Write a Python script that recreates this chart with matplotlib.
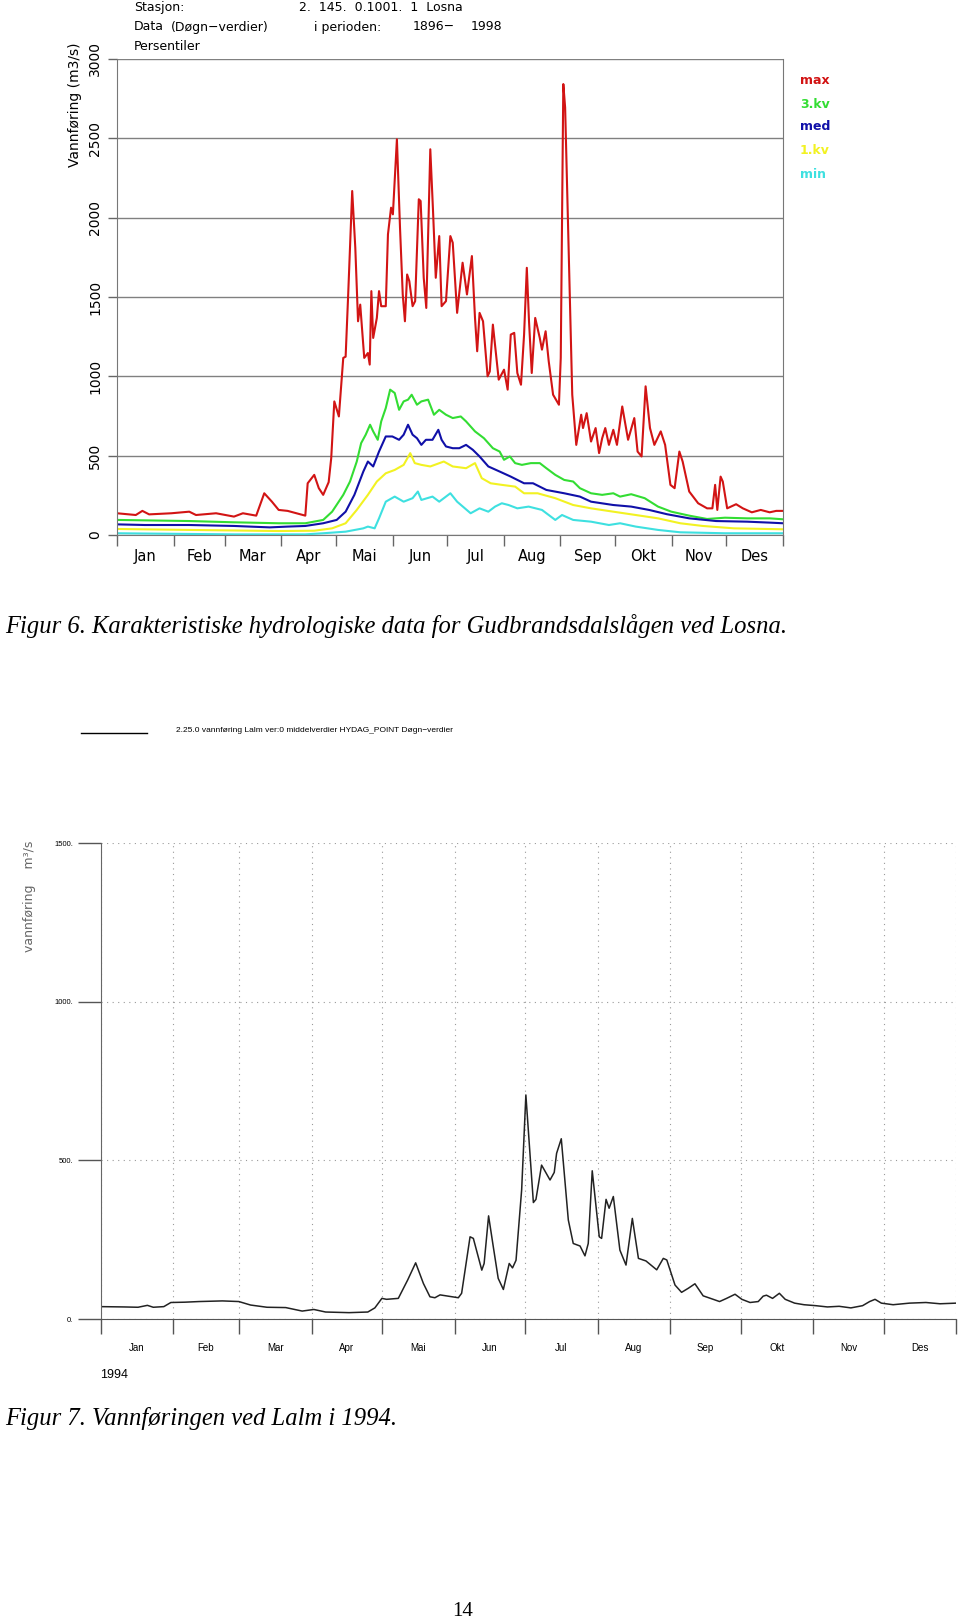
import matplotlib.pyplot as plt
from matplotlib.lines import Line2D

W, H = 960, 1623
DPI = 100


def fx(x):
    return x / W


def fy(y):
    return 1 - y / H


months = ["Jan", "Feb", "Mar", "Apr", "Mai", "Jun", "Jul", "Aug", "Sep", "Okt", "Nov", "Des"]
month_edges = [0, 31, 59, 90, 120, 151, 181, 212, 243, 273, 304, 334, 365]
month_mids = [(a + b) / 2 for a, b in zip(month_edges[:-1], month_edges[1:])]

# Losna 1896-1998, percentiles (m3/s)
max_day = [0, 10.3, 13.9, 17.6, 29.8, 39.6, 43.3, 54.3, 64.1, 69.0, 76.3, 80.7, 84.9, 88.6, 93.5,
           98.3, 103.2, 104.5, 108.1, 110.6, 113.0, 116.0, 117.4, 119.1, 121.6, 124.0, 125.3,
           126.7, 128.9, 130.6, 132.1, 133.3, 135.5, 137.5, 138.5, 139.4, 140.4, 142.4, 143.6,
           144.8, 147.3, 148.5, 150.2, 151.2, 153.4, 155.1, 156.6, 157.8, 159.0, 160.2, 162.0,
           163.4, 165.4, 166.4, 168.1, 169.5, 171.7, 173.2, 174.7, 176.6, 177.9, 180.3, 182.7,
           184.0, 186.4, 189.4, 191.8, 194.5, 196.2, 197.4, 198.7, 200.6, 203.1, 204.3, 206.0,
           209.2, 212.1, 214.1, 215.8, 217.7, 219.4, 221.4, 223.1, 224.6, 225.8, 227.3, 229.2,
           231.7, 232.9, 234.9, 236.6, 239.0, 242.2, 243.2, 244.6, 245.6, 249.5, 251.7, 254.4,
           255.4, 257.4, 259.8, 262.3, 264.2, 265.9, 267.6, 269.6, 272.0, 274.0, 276.9, 280.1,
           283.5, 285.3, 287.5, 289.7, 292.1, 294.5, 298.0, 300.4, 303.3, 305.6, 308.2, 310.0,
           313.6, 318.5, 323.4, 326.3, 327.8, 329.0, 330.8, 332.0, 334.4, 339.3, 343.0, 347.9,
           352.8, 357.7, 361.3, 365]
max_q = [137, 126, 152, 130, 137, 147, 126, 137, 116, 137, 122, 263, 210, 158, 152,
         137, 122, 326, 379, 295, 253, 333, 484, 842, 747, 1116, 1124,
         1516, 2168, 1810, 1347, 1452, 1116, 1147, 1074, 1537, 1242, 1368, 1537,
         1442, 1442, 1895, 2063, 2021, 2494, 1937, 1516, 1347, 1642, 1600, 1442,
         1474, 2116, 2105, 1621, 1431, 2431, 2042, 1621, 1884, 1442, 1474, 1884,
         1842, 1400, 1716, 1516, 1758, 1368, 1158, 1400, 1347, 1000, 1031, 1326,
         979, 1042, 916, 1263, 1274, 1021, 947, 1263, 1684, 1347, 1021, 1368,
         1242, 1168, 1284, 1095, 884, 821, 1116, 2842, 2694, 884, 568, 758,
         674, 768, 589, 674, 516, 610, 674, 568, 663, 568, 810, 600,
         737, 526, 495, 937, 674, 568, 653, 568, 316, 295, 526, 463,
         274, 200, 168, 168, 316, 158, 368, 337, 168, 194, 168, 143,
         158, 143, 152, 152]

q3_day = [0, 39.6, 64.1, 88.6, 103.2, 113.0, 117.9, 124.0, 127.7, 131.4, 133.8, 136.3, 138.7,
          140.4, 142.9, 144.8, 147.3, 149.7, 152.2, 154.6, 157.1, 159.5, 161.5, 164.4, 166.8,
          170.5, 173.7, 176.6, 180.3, 184.0, 188.4, 191.3, 196.2, 201.1, 206.0, 209.7, 212.1,
          215.3, 218.2, 221.9, 226.8, 231.7, 235.3, 240.2, 245.1, 250.0, 253.7, 259.8, 265.9,
          272.0, 275.7, 281.8, 289.2, 296.5, 303.8, 313.6, 323.4, 333.2, 345.4, 357.7, 365]
q3_q = [95, 88, 80, 74, 74, 95, 147, 253, 337, 463, 579, 632, 695,
        653, 600, 716, 800, 916, 895, 789, 842, 853, 884, 821, 842,
        853, 758, 789, 758, 737, 747, 716, 653, 610, 547, 526, 474,
        495, 453, 442, 453, 453, 421, 379, 347, 337, 295, 263, 253,
        263, 242, 257, 232, 179, 147, 122, 101, 109, 105, 105, 99]

med_day = [0, 15.2, 39.6, 64.1, 83.7, 93.5, 103.2, 113.0, 120.4, 125.3, 130.1, 135.0, 137.5,
           140.4, 143.6, 147.3, 150.9, 154.6, 157.1, 159.5, 162.0, 164.4, 166.8, 169.3, 172.9,
           176.1, 177.9, 180.3, 184.0, 187.6, 191.3, 195.0, 198.7, 203.5, 209.7, 215.8, 223.1,
           228.0, 235.3, 245.1, 253.7, 259.8, 272.0, 281.8, 291.6, 301.4, 313.6, 328.3, 345.4,
           357.7, 365]
med_q = [67, 63, 63, 57, 48, 53, 57, 74, 95, 147, 253, 400, 463,
         432, 526, 621, 621, 600, 632, 695, 632, 610, 568, 600, 600,
         663, 600, 558, 547, 547, 568, 537, 495, 432, 400, 368, 326,
         326, 284, 263, 242, 210, 189, 179, 158, 131, 105, 88, 84,
         78, 74]

q1_day = [0, 39.6, 88.6, 108.1, 117.9, 125.3, 131.4, 137.5, 142.4, 147.3, 152.2, 157.1, 160.7,
          163.2, 166.8, 171.7, 179.1, 184.0, 191.3, 196.2, 199.9, 204.8, 210.9, 218.2, 223.1,
          230.5, 240.2, 250.0, 259.8, 272.0, 284.3, 296.5, 308.7, 321.0, 338.1, 365]
q1_q = [38, 32, 25, 27, 42, 74, 158, 253, 337, 389, 410, 442, 516,
        453, 442, 432, 463, 432, 421, 453, 358, 326, 316, 305, 263,
        263, 232, 189, 168, 147, 126, 105, 74, 57, 42, 36]

min_day = [0, 64.1, 103.2, 113.0, 125.3, 135.0, 137.5, 141.2, 143.6, 147.3, 152.2, 157.1, 162.0,
           164.9, 166.8, 172.9, 176.6, 182.7, 186.4, 193.8, 198.7, 203.5, 207.2, 210.9, 214.6,
           219.4, 225.6, 232.9, 240.2, 243.9, 250.0, 259.8, 269.6, 275.7, 284.3, 296.5, 308.7,
           333.2, 365]
min_q = [11, 4, 4, 11, 21, 42, 53, 42, 105, 210, 242, 210, 232,
         274, 221, 242, 210, 263, 210, 137, 168, 147, 179, 200, 189,
         168, 179, 158, 95, 126, 95, 84, 63, 74, 53, 32, 17,
         11, 11]

# Lalm 1994, daily mean discharge (m3/s)
lalm_day = [0, 10, 16, 20, 22.5, 27, 30, 36, 42, 52, 59, 64, 71, 79, 86, 91, 96, 106, 114, 117,
            120, 122, 127, 131, 134.4, 137.7, 140.5, 142.6, 144.8, 152.6, 154, 157.6, 159, 162.6,
            163.6, 165.5, 167.5, 169.6, 171.8, 174.3, 175.7, 177.2, 179.6, 181.4, 184.6, 185.7,
            188.1, 191.7, 193.5, 194.5, 196.5, 199.5, 201.6, 204.5, 206.6, 208, 209.7, 212.7,
            213.7, 215.6, 216.9, 218.7, 221.5, 224.1, 226.8, 229.4, 232.6, 237.2, 240, 241.5,
            245, 247.8, 250.7, 253.5, 257, 261.3, 264, 267, 270.6, 273.5, 277, 280.5, 282.6, 284,
            286.6, 289.5, 292, 296, 300, 305, 310, 315, 320, 325, 328, 330.3, 333, 338, 345, 352,
            358, 365]
lalm_q = [39, 38, 37, 43, 37, 39, 52, 53, 55, 57, 55, 44, 37, 36, 25, 30, 22, 20, 22, 35,
          65, 62, 65, 123, 177, 112, 70, 67, 76, 67, 81, 259, 254, 154,
          175, 325, 228, 128, 93, 175, 161, 185, 407, 706, 367, 377,
          485, 438, 462, 522, 568, 312, 238, 230, 199, 238, 467, 259,
          254, 377, 349, 386, 217, 170, 317, 191, 183, 155, 191, 186,
          107, 84, 97, 111, 73, 62, 55, 65, 78, 62, 52, 55, 72, 75,
          65, 81, 62, 50, 45, 42, 38, 40, 35, 42, 55, 62, 50, 45, 50, 52,
          48, 50]

narrow = ["Liberation Sans", "DejaVu Sans"]
serif = ["Liberation Serif", "DejaVu Serif"]

fig = plt.figure(figsize=(W / DPI, H / DPI), dpi=DPI)

# ---------- Figur 6 ----------
ax1 = fig.add_axes([fx(117), fy(535), (783 - 117) / W, (535 - 59) / H])
ax1.set_axisbelow(True)
ax1.plot(max_day, max_q, color="#d21414", lw=1.5)
ax1.plot(q3_day, q3_q, color="#33dd33", lw=1.5)
ax1.plot(med_day, med_q, color="#1010a8", lw=1.5)
ax1.plot(q1_day, q1_q, color="#f2f222", lw=1.5)
ax1.plot(min_day, min_q, color="#3ee0e0", lw=1.5)
ax1.set_xlim(0, 365)
ax1.set_ylim(0, 3000)
ax1.set_yticks(range(0, 3001, 500))
ax1.yaxis.grid(True, color="#808080", lw=1)
ax1.set_xticks(month_edges)
ax1.set_xticklabels([])
ax1.set_xticks(month_mids, minor=True)
ax1.set_xticklabels(months, minor=True)
ax1.tick_params(axis="x", which="major", length=8, width=1, color="#666666")
ax1.tick_params(axis="x", which="minor", length=0, pad=10, labelsize=10.5)
ax1.tick_params(axis="y", length=6.5, width=1, color="#666666", labelsize=10, pad=4)
for lab in ax1.get_yticklabels():
    lab.set_rotation(90)
    lab.set_va("center")
ax1.spines["top"].set_visible(False)
for s in ["left", "right", "bottom"]:
    ax1.spines[s].set_color("#777777")

fig.text(fx(75), fy(105), "Vannføring (m3/s)", rotation=90, ha="center", va="center", fontsize=10)

hdr = dict(fontsize=9, va="baseline")
fig.text(fx(134), fy(11), "Stasjon:", **hdr)
fig.text(fx(299), fy(11), "2.  145.  0.1001.  1  Losna", **hdr)
fig.text(fx(134), fy(30.5), "Data", **hdr)
fig.text(fx(171), fy(30.5), "(Døgn−verdier)", **hdr)
fig.text(fx(314), fy(30.5), "i perioden:", **hdr)
fig.text(fx(413), fy(30.5), "1896−", **hdr)
fig.text(fx(471), fy(30.5), "1998", **hdr)
fig.text(fx(134), fy(50), "Persentiler", **hdr)

legend_items = [("max", "#d21414", 80), ("3.kv", "#33dd33", 104), ("med", "#1010a8", 127),
                ("1.kv", "#f2f222", 151), ("min", "#3ee0e0", 175)]
for txt, col, yy in legend_items:
    fig.text(fx(800), fy(yy), txt, color=col, fontsize=9, fontweight="bold", va="center")

fig.text(fx(5), fy(626), "Figur 6. Karakteristiske hydrologiske data for Gudbrandsdalslågen ved Losna.",
         family=serif, style="italic", fontsize=17.7, va="center")

# ---------- Figur 7 ----------
fig.add_artist(Line2D([fx(81), fx(147)], [fy(733), fy(733)], color="black", lw=1))
fig.text(fx(176), fy(730), "2.25.0 vannføring Lalm ver:0 middelverdier HYDAG_POINT Døgn−verdier",
         family=narrow, fontsize=6, va="center")

ax2 = fig.add_axes([fx(100.5), fy(1319), (956.4 - 100.5) / W, (1319 - 843) / H])
ax2.set_axisbelow(True)
ax2.plot(lalm_day, lalm_q, color="#222222", lw=1.1)
ax2.set_xlim(0, 365)
ax2.set_ylim(0, 1500)
ax2.set_yticks([0, 500, 1000, 1500])
ax2.set_yticklabels(["0.", "500.", "1000.", "1500."], family=narrow)
ax2.set_xticks(month_edges)
ax2.set_xticklabels([])
ax2.set_xticks(month_mids, minor=True)
ax2.set_xticklabels(months, minor=True, family=narrow)
ax2.grid(True, which="major", ls=(0, (1, 4)), color="#9a9a9a", lw=0.8)
ax2.tick_params(axis="y", length=16.5, width=1, color="#555555", labelsize=5.5, pad=3)
ax2.tick_params(axis="x", which="major", length=11, width=1, color="#555555")
ax2.tick_params(axis="x", which="minor", length=0, pad=17, labelsize=7)
ax2.spines["top"].set_visible(False)
ax2.spines["right"].set_visible(False)
ax2.spines["left"].set_color("#666666")
ax2.spines["bottom"].set_color("#555555")

fig.text(fx(29), fy(896), "vannføring    m³/s", rotation=90, ha="center", va="center",
         fontsize=9, color="#666666")
fig.text(fx(100), fy(1375), "1994", family=narrow, fontsize=9, ha="left", va="center")

fig.text(fx(5), fy(1418), "Figur 7. Vannføringen ved Lalm i 1994.",
         family=serif, style="italic", fontsize=17.7, va="center")
fig.text(fx(463), fy(1612), "14", family=serif, fontsize=15, ha="center", va="center")

fig.savefig("out.png", dpi=DPI)
